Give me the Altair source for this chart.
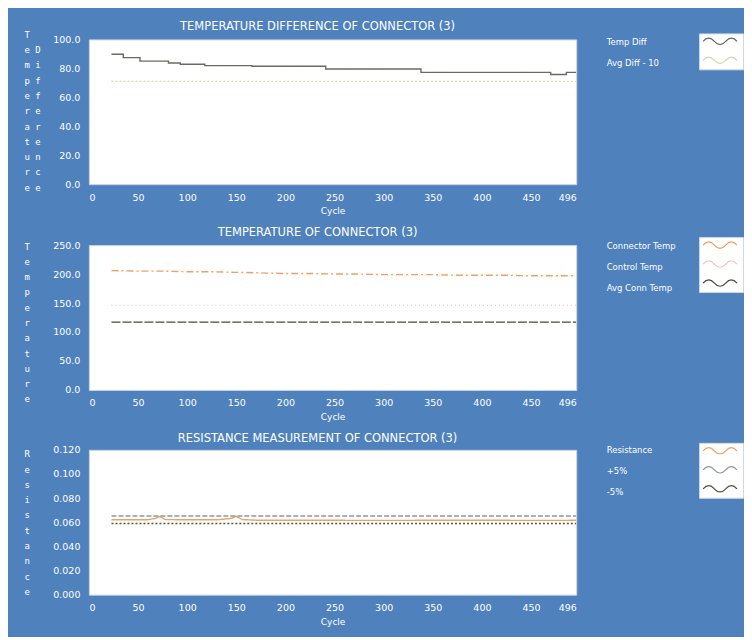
import altair as alt
import pandas as pd

# ---------------- data ----------------
x_ticks = [0, 50, 100, 150, 200, 250, 300, 350, 400, 450, 496]

# Panel 1 : temperature difference
diff_series = ["Temp Diff", "Avg Diff - 10"]
diff_cycles = [23, 35, 52, 81, 93, 118, 166, 241, 338, 470, 486, 496]
temp_diff = [89.7, 87.4, 85.0, 83.7, 82.8, 81.9, 81.4, 79.5, 77.2, 75.7, 77.2, 77.2]
avg_cycles = [23, 496]
avg_diff_minus10 = [71.0, 71.0]

# Panel 2 : temperature
temp_series = ["Connector Temp", "Control Temp", "Avg Conn Temp"]
temp_cycles = [23, 50, 75, 100, 125, 150, 175, 200, 225, 250, 275, 300, 325, 350, 375, 400, 425, 450, 475, 496]
connector_temp = [206, 205, 205, 204, 204, 203, 202, 201, 201, 200, 200, 199, 199, 199, 198, 198, 198, 197, 197, 197]
control_temp = [146, 146, 146, 146, 146, 146, 146, 146, 146, 146, 146, 146, 146, 146, 146, 146, 146, 146, 146, 146]
avg_conn_temp = [117, 117, 117, 117, 117, 117, 117, 117, 117, 117, 117, 117, 117, 117, 117, 117, 117, 117, 117, 117]

# Panel 3 : resistance
res_series = ["Resistance", "+5%", "-5%"]
res_cycles = [23, 40, 60, 68, 72, 78, 100, 130, 145, 150, 156, 170, 200, 250, 300, 340, 380, 420, 460, 496]
resistance = [0.0620, 0.0620, 0.0621, 0.0632, 0.0648, 0.0622, 0.0620, 0.0620, 0.0632, 0.0650,
              0.0622, 0.0617, 0.0616, 0.0616, 0.0615, 0.0616, 0.0616, 0.0616, 0.0615, 0.0616]
band_cycles = [23, 496]
plus5 = [0.0651, 0.0651]
minus5 = [0.0589, 0.0589]

# ---------------- helpers ----------------
BLUE = "#4f81bd"
FONT = "DejaVu Sans"
# wavy legend sample, starting at the symbol and running to the right
WAVE = "M-1,0 Q0.42,-1.6 1.83,0 Q3.25,1.6 4.67,0 Q6.08,-1.6 7.5,0"


def frame(pairs):
    rows = []
    for name, xs, ys in pairs:
        for c, v in zip(xs, ys):
            # "label" carries the same name with a trailing space so that its
            # legend (text column) is not merged with the colour-sample legend
            rows.append({"cycle": c, "value": v, "series": name, "label": name + " "})
    return pd.DataFrame(rows)


def panel(df, title, ytitle, ymax, ystep_vals, yfmt, series, colors, dashes,
          interp, title_y, sym_y, lab_y):
    return alt.Chart(df).mark_line(strokeWidth=1.4, interpolate=interp, clip=True).encode(
        x=alt.X("cycle:Q",
                scale=alt.Scale(domain=[0, 496], nice=False, zero=True),
                axis=alt.Axis(values=x_ticks, title="Cycle", format="d")),
        y=alt.Y("value:Q",
                scale=alt.Scale(domain=[0, ymax], nice=False),
                axis=alt.Axis(values=ystep_vals, format=yfmt, title=ytitle,
                              titleAngle=0, titleAlign="left", titleBaseline="top",
                              titleX=-65, titleY=title_y, titleLineHeight=15.3,
                              titleFont="DejaVu Sans Mono", titleFontSize=9)),
        color=alt.Color("series:N",
                        scale=alt.Scale(domain=series, range=colors),
                        legend=alt.Legend(title=None, orient="none", legendX=611, legendY=sym_y,
                                          direction="vertical", symbolType=WAVE, symbolSize=64,
                                          symbolStrokeWidth=1.2, symbolFillColor="transparent",
                                          labelExpr="'MMMM'", labelOpacity=0, labelFontSize=7.5,
                                          labelOffset=0, fillColor="white",
                                          strokeColor="#d0d8e8", padding=3, rowPadding=7)),
        strokeDash=alt.StrokeDash("label:N",
                                  scale=alt.Scale(domain=[s + " " for s in series], range=dashes),
                                  legend=alt.Legend(title=None, orient="none", legendX=506,
                                                    legendY=lab_y, direction="vertical",
                                                    symbolOpacity=0, symbolSize=1,
                                                    labelOffset=4, labelColor="white",
                                                    labelFont=FONT, labelFontSize=8.5,
                                                    rowPadding=12)),
    ).properties(width=488, height=145, title=title)


# panel 1 two stacked columns: "Temperature" and "Difference"
col1 = "Temperature"
col2 = " Difference"
p1_title = [a + " " + b if b != " " else a for a, b in zip(col1, col2)]

df1 = frame([("Temp Diff", diff_cycles, temp_diff),
             ("Avg Diff - 10", avg_cycles, avg_diff_minus10)])
df2 = frame([("Connector Temp", temp_cycles, connector_temp),
             ("Control Temp", temp_cycles, control_temp),
             ("Avg Conn Temp", temp_cycles, avg_conn_temp)])
df3 = frame([("Resistance", res_cycles, resistance),
             ("+5%", band_cycles, plus5),
             ("-5%", band_cycles, minus5)])

c1 = panel(df1, "TEMPERATURE DIFFERENCE OF CONNECTOR (3)", p1_title, 100,
           [0, 20, 40, 60, 80, 100], ".1f", diff_series,
           ["#6a6a60", "#d9d6b0"], [[1, 0], [2, 2]], "step-after", -9, -6, -2)
c2 = panel(df2, "TEMPERATURE OF CONNECTOR (3)", list("Temperature"), 250,
           [0, 50, 100, 150, 200, 250], ".1f", temp_series,
           ["#f0a060", "#f2c4cc", "#4a4a38"], [[7, 3, 2, 3], [1, 3], [9, 2]], "linear", -3, -8, -3)
c3 = panel(df3, "RESISTANCE MEASUREMENT OF CONNECTOR (3)", list("Resistance"), 0.12,
           [0, 0.02, 0.04, 0.06, 0.08, 0.1, 0.12], ".3f", res_series,
           ["#f0a060", "#8a96b0", "#4f5535"], [[1, 0], [5, 2], [2, 2]], "linear", 0, -7, -4)

chart = alt.vconcat(c1, c2, c3, spacing=10).resolve_scale(
    color="independent", strokeDash="independent"
).resolve_legend(color="independent", strokeDash="independent").properties(
    background=BLUE,
    padding={"left": 15, "top": 12, "right": 0, "bottom": 10},
).configure_view(
    fill="white", stroke="#c8d3e6", strokeWidth=1
).configure_axis(
    labelColor="white", titleColor="white", labelFont=FONT, titleFont=FONT,
    labelFontSize=9.5, titleFontSize=9, titleFontWeight="normal",
    ticks=False, tickSize=0, domain=False, grid=False
).configure_axisX(
    labelPadding=8, titlePadding=5
).configure_axisY(
    labelPadding=9
).configure_title(
    color="white", font=FONT, fontSize=11.5, fontWeight="normal",
    anchor="middle", frame="group", dx=-15, offset=-2
)

chart.save("out.html", embed_options={"renderer": "svg", "actions": False})
